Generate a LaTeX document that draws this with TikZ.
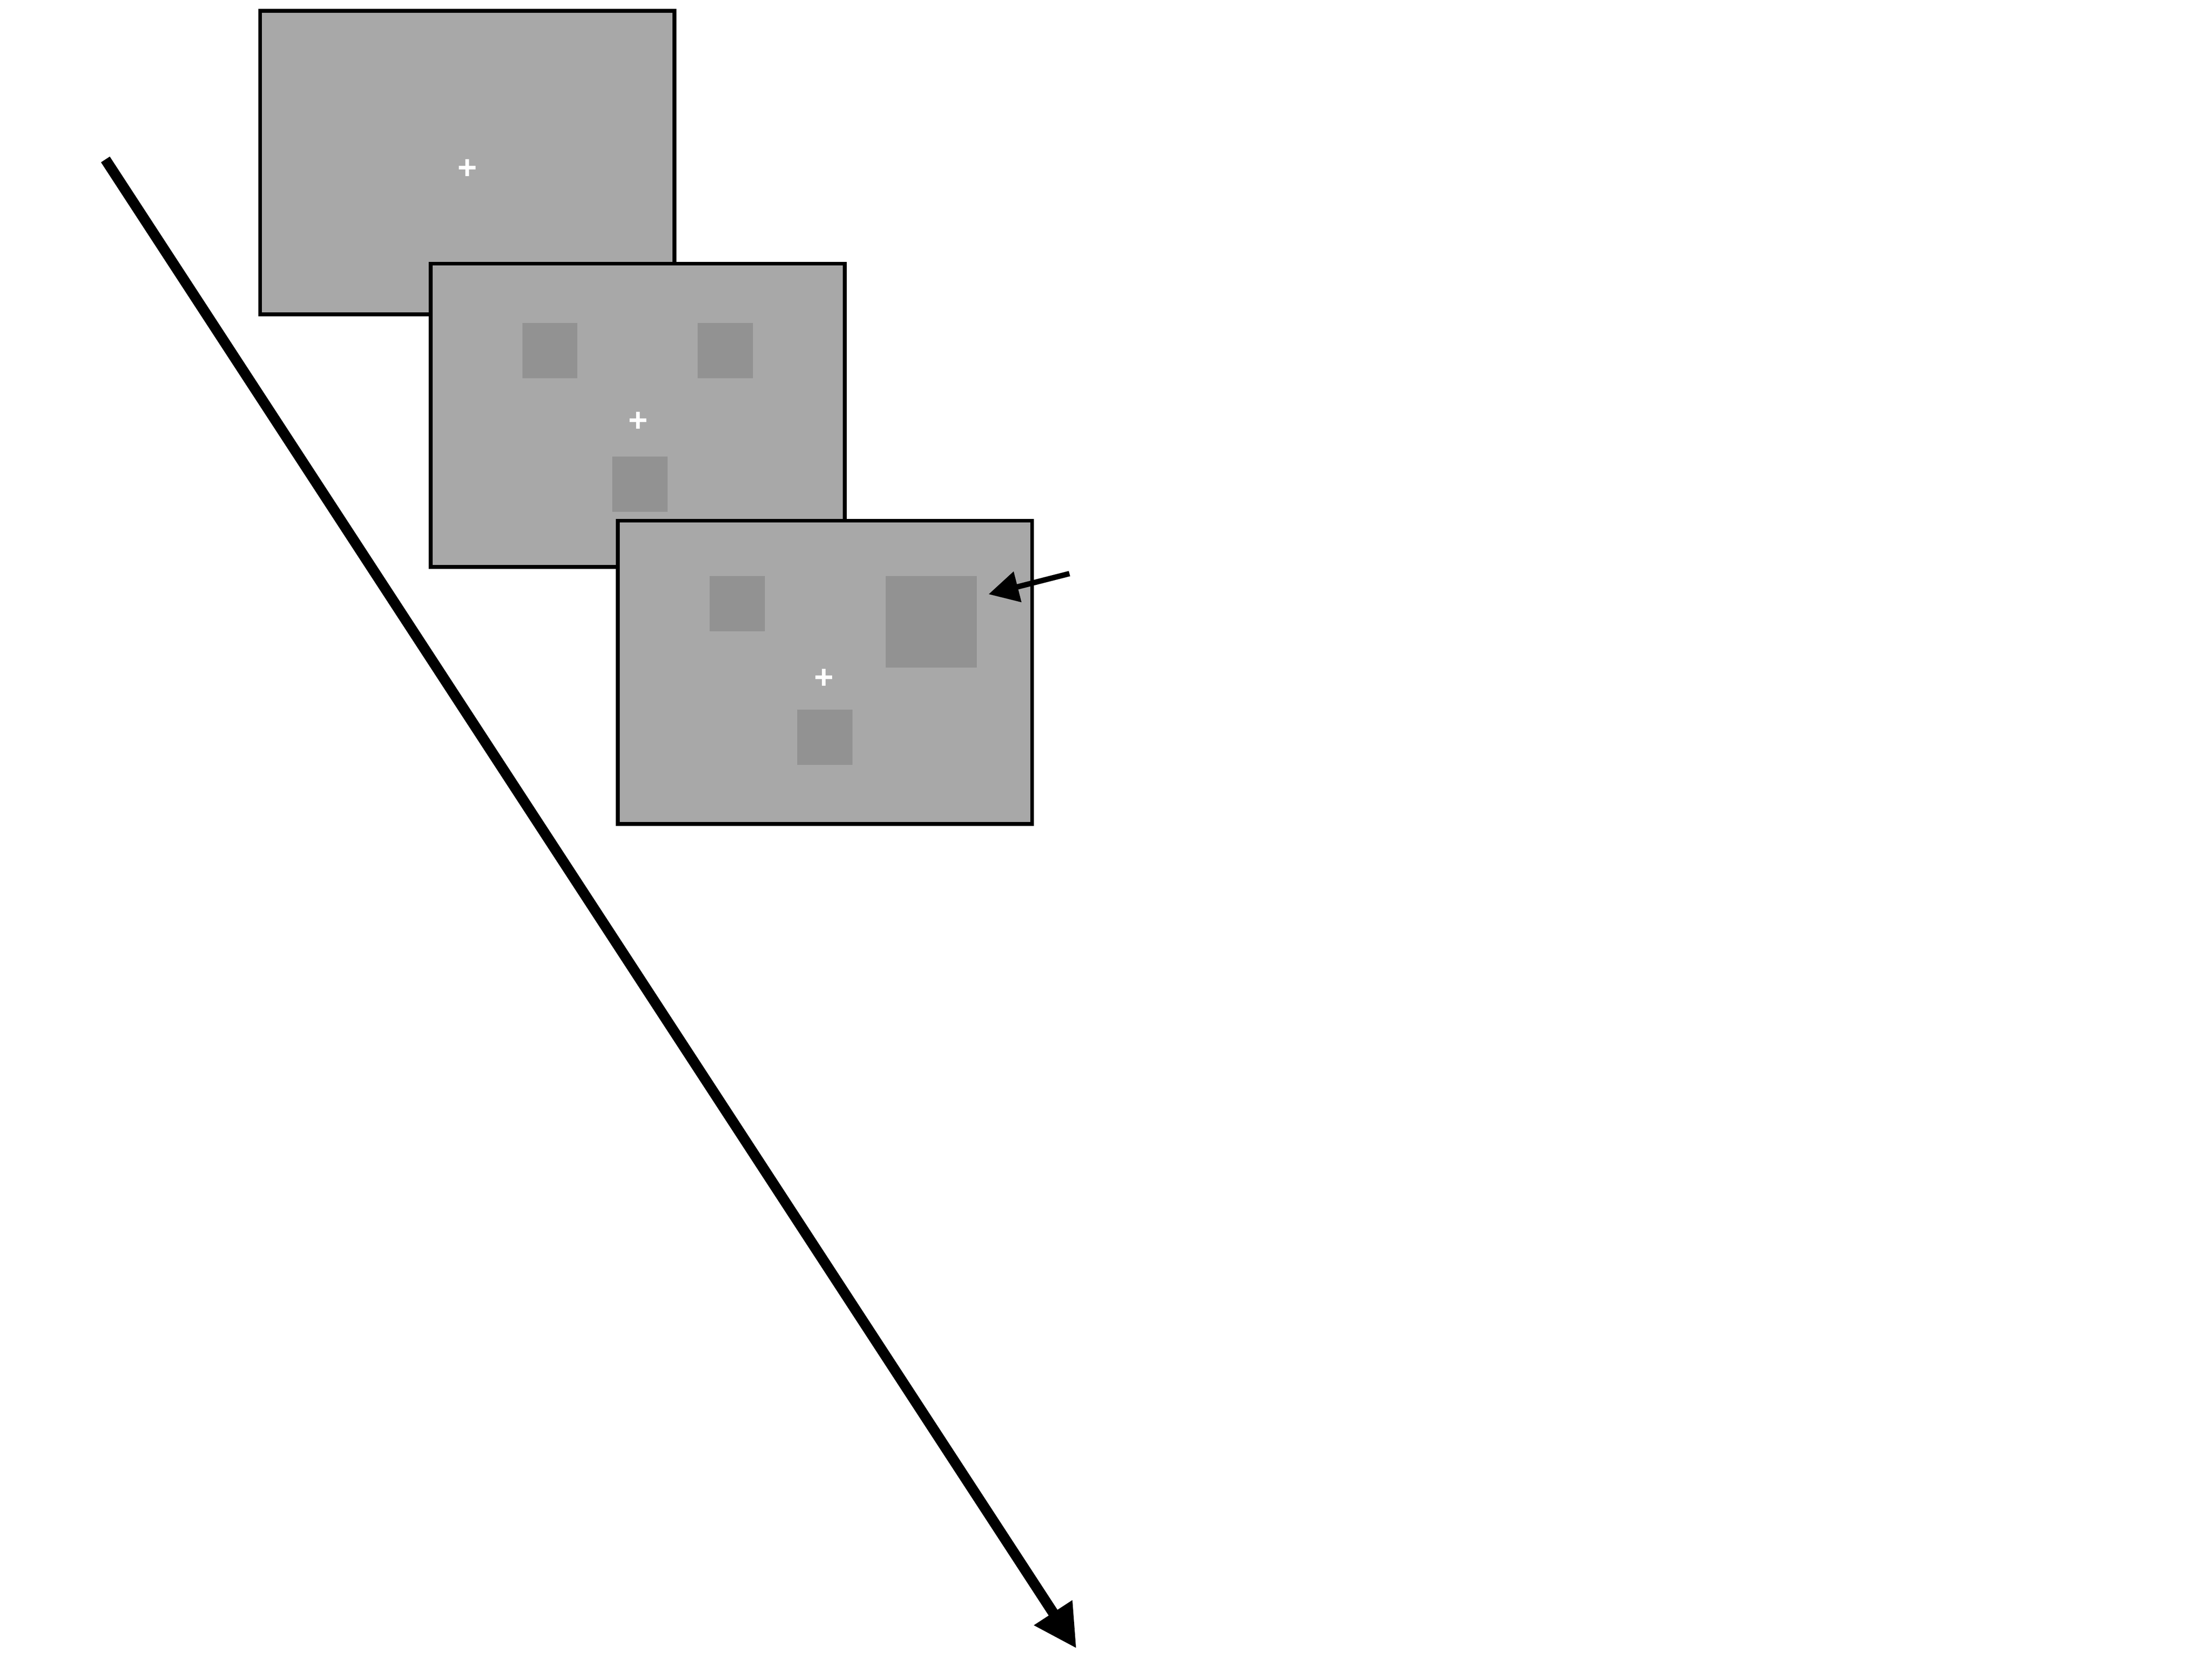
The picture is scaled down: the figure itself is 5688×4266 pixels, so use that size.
\documentclass[tikz,border=0pt]{standalone}
\usepackage{fontspec}
\newfontfamily\crossfont{Liberation Sans}
\usetikzlibrary{arrows.meta}
\definecolor{screengray}{RGB}{168,168,168}
\definecolor{itemgray}{RGB}{146,146,146}
\begin{document}
\begin{tikzpicture}[x=0.05mm,y=-0.05mm,
  screen/.style={draw=black,line width=0.5mm,fill=screengray,rectangle,inner sep=0pt,minimum width=53.25mm,minimum height=39mm},
  item/.style={fill=itemgray,draw=none,rectangle,inner sep=0pt,minimum width=7.1mm,minimum height=7.1mm},
  bigitem/.style={fill=itemgray,draw=none,rectangle,inner sep=0pt,minimum width=11.75mm,minimum height=11.8mm},
  fixation/.style={text=white,inner sep=0pt,anchor=base,font=\crossfont\bfseries\fontsize{12.2}{15}\selectfont},
  timearrow/.style={line width=1.35mm,-{Triangle[length=5.5mm,width=5.5mm]}},
  cuearrow/.style={line width=0.7mm,-{Triangle[length=3.85mm,width=3.9mm]}}]
\useasboundingbox (0,0) rectangle (5688,4266);
% screen 1
\node[screen] (s1) at (1201.5,418) {};
\node[fixation] (f1) at (1202,460) {+};
% screen 2
\node[screen] (s2) at (1640,1068) {};
\node[item] (a2) at (1414,902) {};
\node[item] (b2) at (1865.5,902) {};
\node[item] (c2) at (1645.5,1245.5) {};
\node[fixation] (f2) at (1641,1109.5) {+};
% screen 3
\node[screen] (s3) at (2121.5,1729) {};
\node[item] (a3) at (1895.5,1552) {};
\node[bigitem] (b3) at (2394.5,1599) {};
\node[item] (c3) at (2121,1895.5) {};
\node[fixation] (f3) at (2119,1771) {+};
% cue arrow
\coordinate (cueTail) at (2750,1475);
\coordinate (cueTip) at (2542,1528);
\draw[cuearrow] (cueTail) -- (cueTip);
% time arrow
\coordinate (timeStart) at (271,410);
\coordinate (timeEnd) at (2768,4239);
\draw[timearrow] (timeStart) -- (timeEnd);
\end{tikzpicture}
\end{document}
